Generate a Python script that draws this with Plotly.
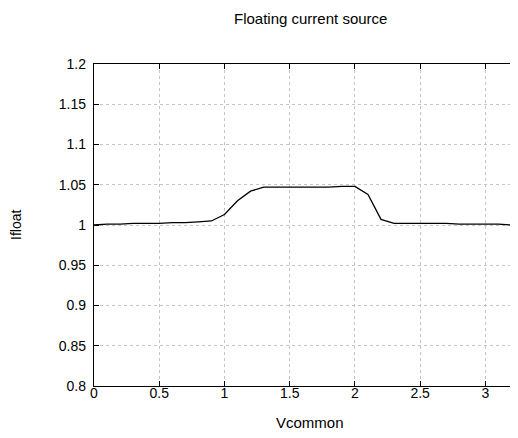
import plotly.graph_objects as go

vcommon = [0.0, 0.1, 0.2, 0.3, 0.4, 0.5, 0.6, 0.7, 0.8, 0.9, 1.0, 1.1, 1.2, 1.3,
           1.4, 1.5, 1.6, 1.7, 1.8, 1.9, 2.0, 2.1, 2.2, 2.3, 2.4, 2.5, 2.6, 2.7,
           2.8, 2.9, 3.0, 3.1, 3.2, 3.3]
ifloat = [1.000, 1.001, 1.001, 1.002, 1.002, 1.002, 1.003, 1.003, 1.004, 1.005,
          1.013, 1.030, 1.042, 1.047, 1.047, 1.047, 1.047, 1.047, 1.047, 1.048,
          1.048, 1.038, 1.007, 1.002, 1.002, 1.002, 1.002, 1.002, 1.001, 1.001,
          1.001, 1.001, 1.000, 1.000]

x_ticks = [0, 0.5, 1, 1.5, 2, 2.5, 3]
x_labels = ["0", "0.5", "1", "1.5", "2", "2.5", "3"]
y_ticks = [0.8, 0.85, 0.9, 0.95, 1.0, 1.05, 1.1, 1.15, 1.2]
y_labels = ["0.8", "0.85", "0.9", "0.95", "1", "1.05", "1.1", "1.15", "1.2"]

FONT = "Liberation Sans, Arial, sans-serif"

fig = go.Figure()
fig.add_trace(go.Scatter(x=vcommon, y=ifloat, mode="lines",
                         line=dict(color="black", width=1.3), showlegend=False))

axis_common = dict(
    showline=True, linecolor="black", linewidth=1.3,
    ticks="inside", ticklen=5, tickcolor="black", tickwidth=1,
    showgrid=True, gridcolor="#c4c4c4", gridwidth=1, griddash="dot",
    zeroline=False, tickfont=dict(family=FONT, size=14, color="black"),
)

fig.update_layout(
    width=510, height=430,
    margin=dict(l=86, r=0, t=56, b=52),
    paper_bgcolor="white", plot_bgcolor="white",
    xaxis=dict(range=[0, 3.25], tickvals=x_ticks, ticktext=x_labels, mirror="ticks",
               ticklabelstandoff=-6, **axis_common),
    yaxis=dict(range=[0.8, 1.2], tickvals=y_ticks, ticktext=y_labels, mirror=False,
               ticklabelstandoff=4, **axis_common),
    annotations=[
        dict(text="Floating current source", xref="paper", yref="paper",
             x=0.51, y=1, yshift=46, xanchor="center", yanchor="middle",
             showarrow=False, font=dict(family=FONT, size=15, color="black")),
        dict(text="Vcommon", xref="paper", yref="paper",
             x=0.51, y=0, yshift=-36, xanchor="center", yanchor="middle",
             showarrow=False, font=dict(family=FONT, size=15, color="black")),
        dict(text="Ifloat", xref="paper", yref="paper",
             x=0, xshift=-78, y=0.5, xanchor="center", yanchor="middle",
             textangle=-90,
             showarrow=False, font=dict(family=FONT, size=14, color="black")),
    ],
)

fig.write_html("out.html")
